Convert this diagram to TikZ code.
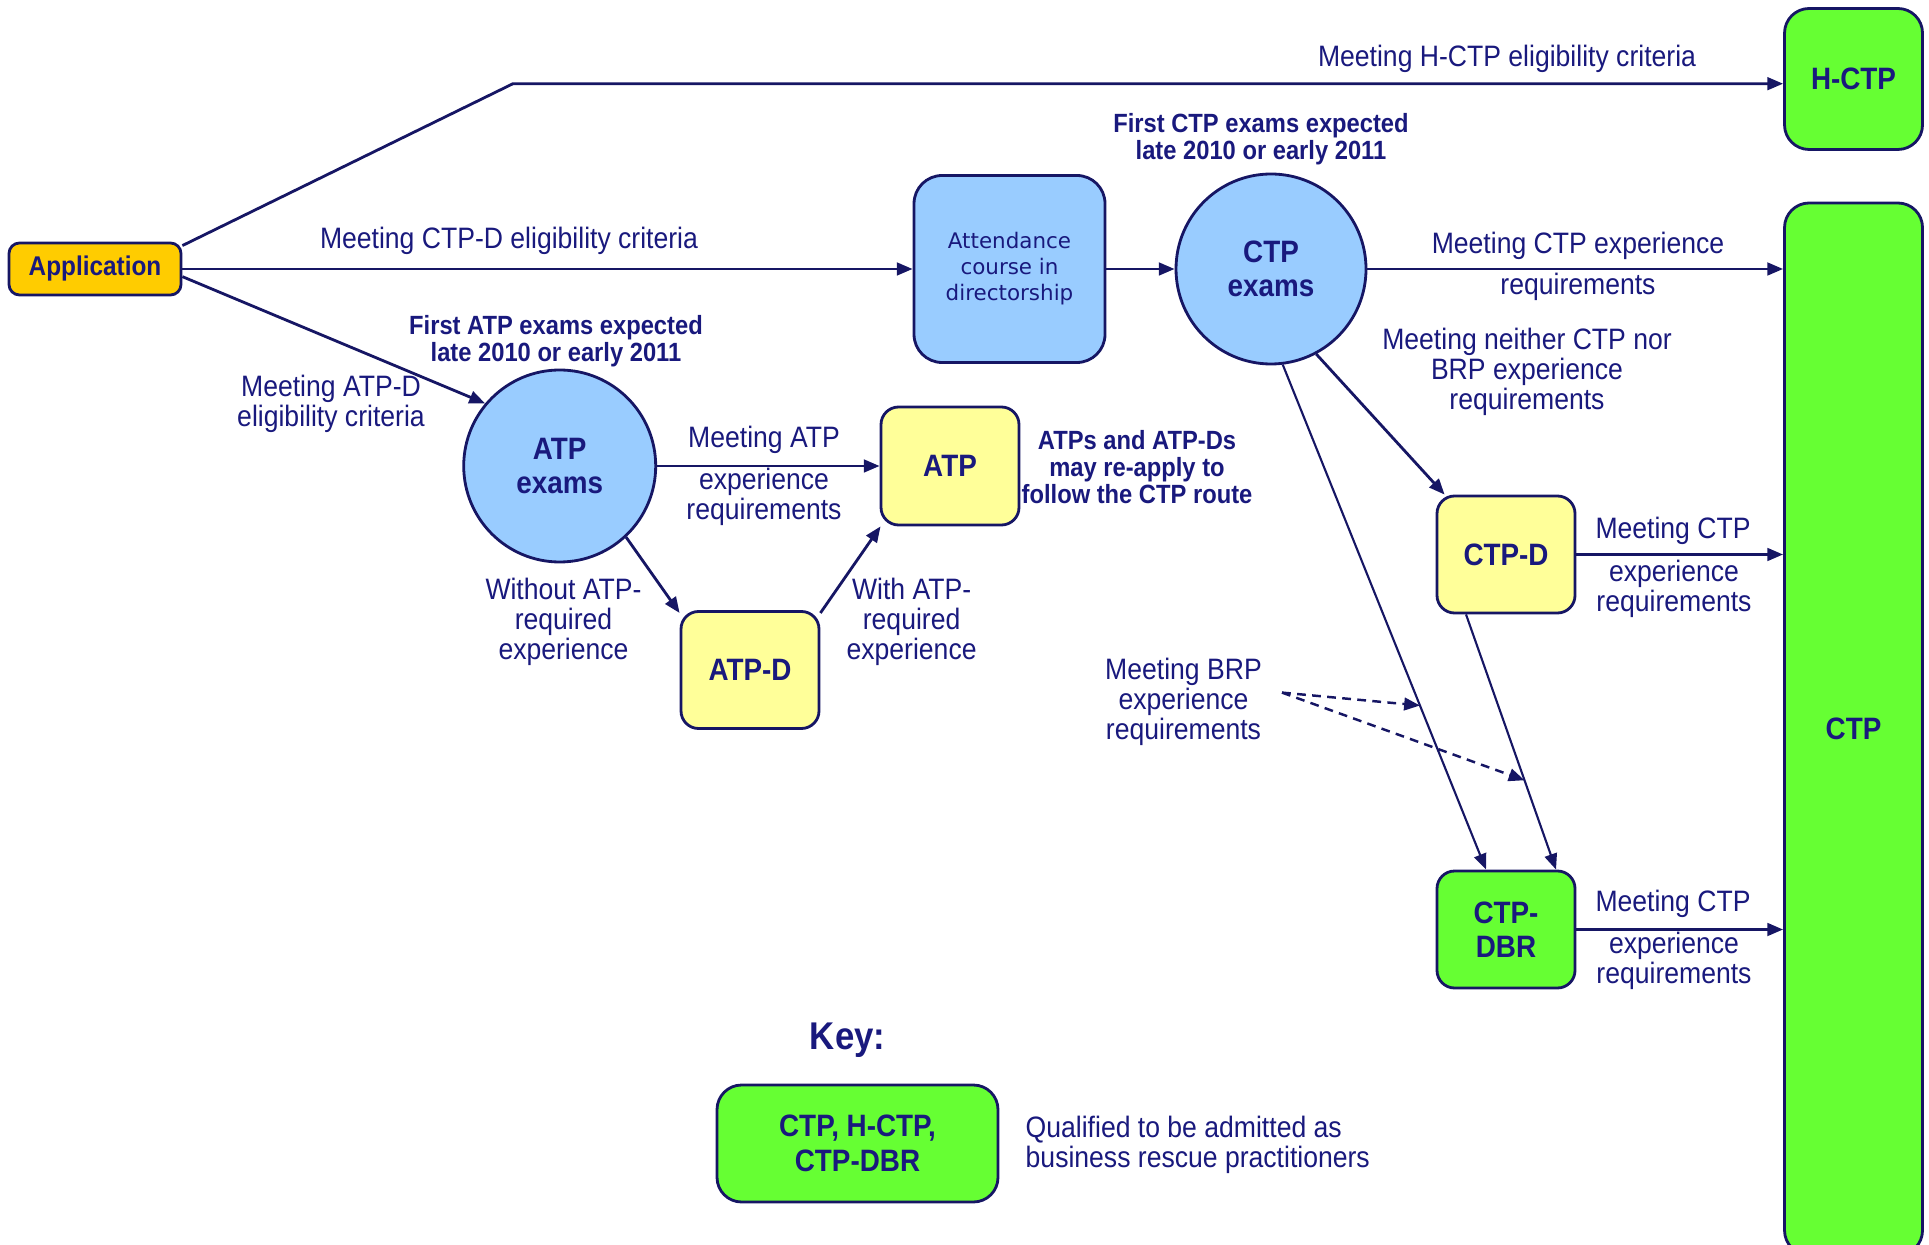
\documentclass[tikz,border=0pt]{standalone}
\usepackage{fontspec}
\setmainfont[FakeStretch=0.9]{Liberation Sans}
\newfontfamily\attfont{DejaVu Sans}
\usepackage{tikz}
\usetikzlibrary{arrows.meta, positioning, calc}
\usepackage{xcolor}
\definecolor{cNavy}{RGB}{25,25,125}
\definecolor{cLine}{RGB}{22,22,100}
\definecolor{cBlueFill}{RGB}{153,204,255}
\definecolor{cYellowFill}{RGB}{255,255,153}
\definecolor{cGreenFill}{RGB}{102,255,51}
\definecolor{cOrangeFill}{RGB}{255,204,0}
\tikzset{
  basebox/.style={rectangle, rounded corners=5pt, draw=cLine, line width=0.8pt,
                  align=center, text=cNavy, inner sep=0pt,
                  font=\fontsize{8.8}{9.8}\selectfont\bfseries},
  appnode/.style={basebox, fill=cOrangeFill, minimum width=1.72cm,
                  minimum height=0.52cm, rounded corners=3pt,
                  font=\fontsize{7.7}{8.5}\selectfont\bfseries},
  coursenode/.style={basebox, fill=cBlueFill, minimum width=1.91cm,
                     minimum height=1.87cm, rounded corners=8pt,
                     font=\attfont\fontsize{6.1}{7.4}\selectfont},
  examnode/.style={circle, draw=cLine, line width=0.8pt, fill=cBlueFill,
                   align=center, text=cNavy, inner sep=0pt, minimum size=1.9cm,
                   font=\fontsize{8.8}{9.8}\selectfont\bfseries},
  yellownode/.style={basebox, fill=cYellowFill, minimum width=1.38cm,
                     minimum height=1.17cm},
  greennode/.style={basebox, fill=cGreenFill, minimum width=1.38cm,
                    minimum height=1.17cm},
  lbl/.style={font=\fontsize{8.4}{8.6}\selectfont, text=cNavy, align=center,
              inner sep=0pt},
  note/.style={font=\fontsize{7.5}{7.7}\selectfont\bfseries, text=cNavy,
               align=center, inner sep=0pt},
  arrow/.style={->, >={Triangle[length=4.5pt,width=3.6pt]}, line width=0.8pt,
                color=cLine},
  thinarrow/.style={arrow, line width=0.6pt},
  dasharrow/.style={arrow, line width=0.7pt, dash pattern=on 2.5pt off 1.8pt}
}

\begin{document}
\begin{tikzpicture}
  \useasboundingbox (0,0) rectangle (19.29,-12.45);

  % Start and qualification boxes
  \node[appnode] (app) at (0.95,-2.69) {Application};
  \node[greennode, minimum height=1.41cm, rounded corners=7pt] (hctp) at (18.535,-0.79) {H-CTP};
  \node[greennode, minimum height=10.52cm, rounded corners=7pt] (ctp) at (18.535,-7.29) {CTP};

  % CTP route
  \node[coursenode] (attend) at (10.095,-2.69) {Attendance\\course in\\directorship};
  \node[examnode] (ctpex) at (12.71,-2.69) {CTP\\exams};
  \node[yellownode] (ctpd) at (15.06,-5.545) {CTP-D};
  \node[greennode] (ctpdbr) at (15.06,-9.295) {CTP-\\DBR};

  % ATP route
  \node[examnode, minimum size=1.92cm] (atpex) at (5.597,-4.66) {ATP\\exams};
  \node[yellownode, minimum height=1.18cm] (atp) at (9.50,-4.66) {ATP};
  \node[yellownode] (atpd) at (7.50,-6.70) {ATP-D};

  % Connectors from application
  \coordinate (kink) at (5.13,-0.837);
  \draw[arrow] (app.15) -- (kink) -- (hctp.west |- kink);
  \draw[arrow] (app.east) -- (attend.west);
  \draw[arrow] (app.-5) -- (atpex.140);

  % CTP connectors
  \draw[arrow] (attend.east) -- (ctpex.west);
  \draw[arrow] (ctpex.east) -- (ctp.west |- ctpex.east);
  \draw[arrow] (ctpex.-62) -- ([xshift=0.09cm]ctpd.north west);
  \draw[thinarrow] (ctpex.-83) -- coordinate[pos=0.675] (hitA) ([xshift=-0.2cm]ctpdbr.north);
  \draw[thinarrow] ([xshift=-0.4cm]ctpd.south) -- coordinate[pos=0.65] (hitB) ([xshift=0.5cm]ctpdbr.north);
  \draw[arrow] (ctpd.east) -- (ctp.west |- ctpd.east);
  \draw[arrow] (ctpdbr.east) -- (ctp.west |- ctpdbr.east);

  % ATP connectors
  \draw[arrow] (atpex.east) -- (atp.west);
  \draw[arrow] (atpex.-47) -- (atpd.141);
  \draw[arrow] (atpd.39) -- (atp.221);

  % Labels
  \node[lbl] (lHctp) at (15.07,-0.59) {Meeting H-CTP eligibility criteria};
  \node[lbl] (lCtpd) at (5.09,-2.41) {Meeting CTP-D eligibility criteria};
  \node[lbl] (lAtpd) at (3.31,-4.04) {Meeting ATP-D\\eligibility criteria};
  \node[note] (nAtpFirst) at (5.56,-3.41) {First ATP exams expected\\late 2010 or early 2011};
  \node[note] (nCtpFirst) at (12.61,-1.395) {First CTP exams expected\\late 2010 or early 2011};
  \node[lbl] (lCtpExpA) at (15.78,-2.455) {Meeting CTP experience};
  \node[lbl] (lCtpExpB) at (15.78,-2.87) {requirements};
  \node[lbl] (lNeither) at (15.27,-3.72) {Meeting neither CTP nor\\BRP experience\\requirements};
  \node[lbl] (lCtpdA) at (16.73,-5.31) {Meeting CTP};
  \node[lbl] (lCtpdB) at (16.74,-5.89) {experience\\requirements};
  \node[lbl] (lDbrA) at (16.73,-9.04) {Meeting CTP};
  \node[lbl] (lDbrB) at (16.74,-9.61) {experience\\requirements};
  \node[lbl] (lAtpA) at (7.64,-4.40) {Meeting ATP};
  \node[lbl] (lAtpB) at (7.64,-4.97) {experience\\requirements};
  \node[lbl] (lWithout) at (5.635,-6.22) {Without ATP-\\required\\experience};
  \node[lbl] (lWith) at (9.116,-6.22) {With ATP-\\required\\experience};
  \node[note] (nReapply) at (11.37,-4.67) {ATPs and ATP-Ds\\may re-apply to\\follow the CTP route};
  \node[lbl] (lBrp) at (11.835,-7.02) {Meeting BRP\\experience\\requirements};

  % BRP dashed arrows
  \coordinate (brpStart) at (12.82,-6.926);
  \draw[dasharrow] (brpStart) -- (hitA);
  \draw[dasharrow] (brpStart) -- (hitB);

  % Key
  \node[font=\fontsize{11}{12}\selectfont\bfseries, text=cNavy] (keyTitle) at (8.476,-10.40) {Key:};
  \node[greennode, minimum width=2.81cm, rounded corners=7pt] (keybox) at (8.575,-11.435) {CTP, H-CTP,\\CTP-DBR};
  \node[lbl, anchor=west, align=left] (keyText) at (10.25,-11.45) {Qualified to be admitted as\\business rescue practitioners};
\end{tikzpicture}
\end{document}
